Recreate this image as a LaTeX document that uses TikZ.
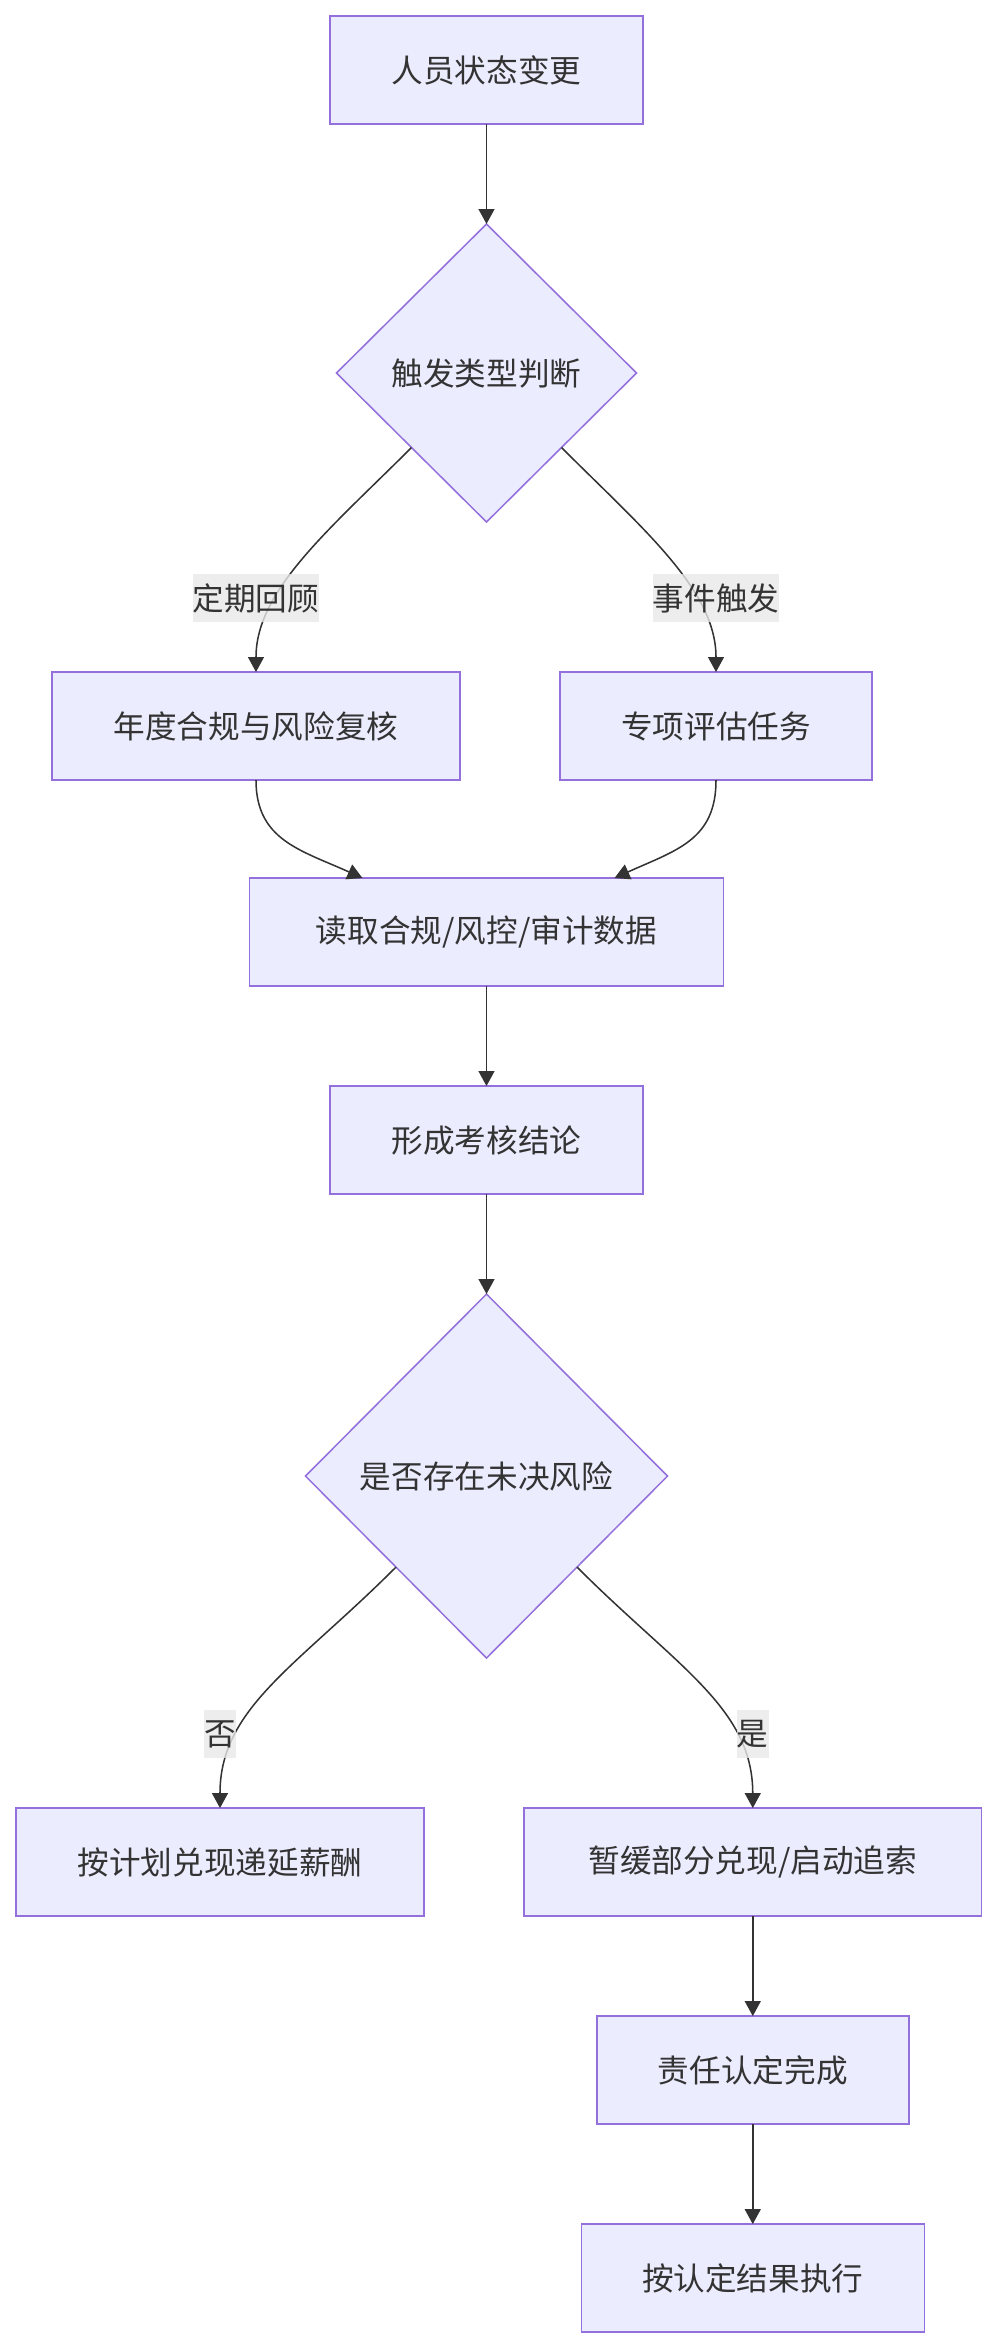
\documentclass[tikz,border=0pt]{standalone}
\usepackage{fontspec}
\setmainfont{Noto Sans CJK SC}
\usetikzlibrary{positioning, arrows.meta, calc, shapes.geometric}
\definecolor{bgNode}{HTML}{ECECFF}
\definecolor{borderNode}{HTML}{9370DB}
\definecolor{arrowColor}{HTML}{333333}
\definecolor{textMain}{HTML}{333333}
\definecolor{bgLabel}{HTML}{E8E8E8}
\tikzset{
  stepbox/.style={draw=borderNode, fill=bgNode, line width=1.3pt,
    minimum height=3.24cm, inner sep=0pt, outer sep=0pt,
    font=\fontsize{27}{32}\selectfont, text=textMain, align=center},
  decision/.style={diamond, draw=borderNode, fill=bgNode, line width=1.3pt,
    inner sep=0pt, outer sep=0pt, font=\fontsize{27}{32}\selectfont, text=textMain, align=center},
  flowarrow/.style={-{Triangle[length=12.8pt, width=13.6pt]}, line width=1.3pt, draw=arrowColor},
  edgelabel/.style={fill=bgLabel, fill opacity=0.8, text opacity=1, inner sep=0pt,
    minimum height=1.44cm, font=\fontsize{27}{32}\selectfont, text=textMain},
}

\begin{document}
\begin{tikzpicture}[x=0.03cm, y=0.03cm]

  \useasboundingbox (0,0) rectangle (996,-2348);

  % === Upper part: trigger ===
  \node[stepbox, minimum width=9.39cm] (start) at (486.5,-70) {人员状态变更};
  \node[decision, minimum width=9cm, minimum height=8.94cm, below=3cm of start] (dec1) {触发类型判断};

  \node[stepbox, minimum width=12.24cm, below=4.5cm of dec1, xshift=-6.915cm] (annual) {年度合规与风险复核};
  \node[stepbox, minimum width=9.36cm, right=3cm of annual] (special) {专项评估任务};

  \node[stepbox, minimum width=14.22cm, below=10.68cm of dec1] (read) {读取合规/风控/审计数据};
  \node[stepbox, minimum width=9.39cm, below=3cm of read] (concl) {形成考核结论};

  % === Lower part: outcome ===
  \node[decision, minimum width=10.86cm, minimum height=10.92cm, below=3cm of concl] (dec2) {是否存在未决风险};

  \node[stepbox, minimum width=12.24cm, below=4.5cm of dec2, xshift=-7.995cm] (keep) {按计划兑现递延薪酬};
  \node[stepbox, minimum width=13.725cm, right=3cm of keep] (suspend) {暂缓部分兑现/启动追索};
  \node[stepbox, minimum width=9.36cm, below=3cm of suspend] (resp) {责任认定完成};
  \node[stepbox, minimum width=10.29cm, below=3cm of resp] (exec) {按认定结果执行};

  % === Arrows ===
  \draw[flowarrow] (start) -- (dec1);
  \draw[flowarrow] (dec1.south west) .. controls +(-82,-82) and +(0,82) .. (annual.north);
  \draw[flowarrow] (dec1.south east) .. controls +(82,-82) and +(0,82) .. (special.north);
  \draw[flowarrow] (annual.south) .. controls +(0,-60) and +(-62,28) .. ($(read.north)+(-124,0)$);
  \draw[flowarrow] (special.south) .. controls +(0,-60) and +(62,28) .. ($(read.north)+(128,0)$);
  \draw[flowarrow] (read) -- (concl);
  \draw[flowarrow] (concl) -- (dec2);
  \draw[flowarrow] (dec2.south west) .. controls +(-100,-100) and +(0,100) .. (keep.north);
  \draw[flowarrow] (dec2.south east) .. controls +(100,-100) and +(0,100) .. (suspend.north);
  \draw[flowarrow] (suspend) -- (resp);
  \draw[flowarrow] (resp) -- (exec);

  % === Edge labels ===
  \node[edgelabel] (lblPeriodic) at ($(annual.north)+(0,74)$) {定期回顾};
  \node[edgelabel] (lblEvent) at ($(special.north)+(0,74)$) {事件触发};
  \node[edgelabel] (lblNo) at ($(keep.north)+(0,74)$) {否};
  \node[edgelabel] (lblYes) at ($(suspend.north)+(0,74)$) {是};

\end{tikzpicture}
\end{document}
